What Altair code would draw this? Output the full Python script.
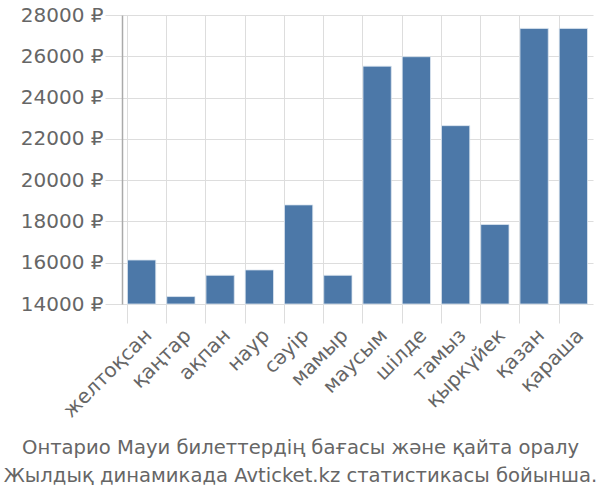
import altair as alt
import pandas as pd

months = ["желтоқсан", "қаңтар", "ақпан", "наур", "сәуір", "мамыр",
          "маусым", "шілде", "тамыз", "қыркүйек", "қазан", "қараша"]
prices = [16130, 14360, 15390, 15650, 18800, 15390,
          25520, 25980, 22640, 17850, 27350, 27350]
y_ticks = [14000, 16000, 18000, 20000, 22000, 24000, 26000, 28000]
title_lines = ["Онтарио Мауи билеттердің бағасы және қайта оралу",
               "Жылдық динамикада Avticket.kz статистикасы бойынша."]

df = pd.DataFrame({"month": months, "price": prices})

FONT = "DejaVu Sans"

chart = alt.Chart(df).mark_bar(color="#4c78a8", stroke="#dce6f0", strokeWidth=0.8).encode(
    x=alt.X("month:N", sort=months, title=None,
            scale=alt.Scale(paddingInner=0.28, paddingOuter=0.14),
            axis=alt.Axis(labelAngle=-45, labelFontSize=20, labelColor="#666666",
                          labelFont=FONT, tickSize=19, tickColor="#dddddd",
                          grid=True, gridColor="#dddddd", bandPosition=0,
                          domain=False, labelPadding=2)),
    y=alt.Y("price:Q", title=None,
            scale=alt.Scale(domain=[14000, 28000], zero=False, nice=False),
            axis=alt.Axis(values=y_ticks, labelExpr="datum.value + ' ₽'",
                          labelFontSize=20, labelColor="#666666", labelFont=FONT,
                          tickSize=17, tickColor="#dddddd", gridColor="#dddddd",
                          domainColor="#aaaaaa", domainWidth=1.5, labelPadding=2)),
    y2=alt.datum(14000),
).properties(
    width=471, height=289,
    autosize=alt.AutoSizeParams(type="none"),
    padding={"left": 122, "top": 15, "right": 7, "bottom": 196},
    title=alt.TitleParams(text=title_lines, orient="bottom", anchor="middle",
                          fontSize=19.6, font=FONT, color="#666666",
                          fontWeight="normal", offset=18, lineHeight=28.5,
                          dx=-57),
).configure_view(stroke=None)

chart.save("out.html", embed_options={"renderer": "svg", "actions": False})
